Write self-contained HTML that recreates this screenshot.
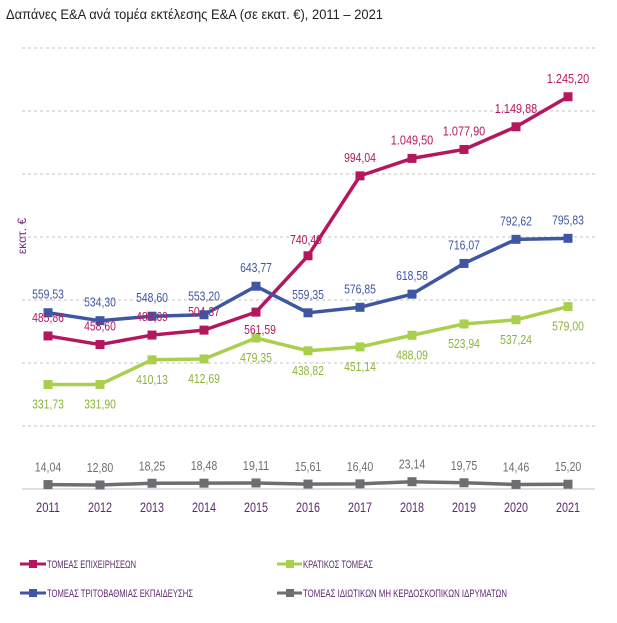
<!DOCTYPE html>
<html><head><meta charset="utf-8"><style>
body{margin:0;background:#fff;}
svg{display:block;font-family:"Liberation Sans Narrow","Liberation Sans",sans-serif;}
</style></head><body>
<svg width="617" height="623" viewBox="0 0 617 623">
<text x="6" y="19" textLength="377" lengthAdjust="spacingAndGlyphs" font-family="Liberation Sans, sans-serif" font-size="13.5" fill="#222">Δαπάνες Ε&amp;Α ανά τομέα εκτέλεσης Ε&amp;Α (σε εκατ. €), 2011 – 2021</text>
<text transform="translate(26,236) rotate(-90)" text-anchor="middle" font-size="12" fill="#7a2a7a">εκατ. €</text>
<g id="grid"></g><g id="series"></g><g id="labels"></g><g id="xaxis"></g>
<g>
<g><line x1="20" y1="564" x2="46" y2="564" stroke="#b5175f" stroke-width="3"/><rect x="29" y="560" width="8" height="8" fill="#b5175f"/><text x="47" y="568" textLength="89" lengthAdjust="spacingAndGlyphs" font-size="11" fill="#5b2a6e">ΤΟΜΕΑΣ ΕΠΙΧΕΙΡΗΣΕΩΝ</text></g>
<g><line x1="277" y1="564" x2="302" y2="564" stroke="#a9cf4f" stroke-width="3"/><rect x="286" y="560" width="8" height="8" fill="#a9cf4f"/><text x="303" y="568" textLength="70" lengthAdjust="spacingAndGlyphs" font-size="11" fill="#5b2a6e">ΚΡΑΤΙΚΟΣ ΤΟΜΕΑΣ</text></g>
<g><line x1="20" y1="593" x2="46" y2="593" stroke="#3f56a3" stroke-width="3"/><rect x="29" y="589" width="8" height="8" fill="#3f56a3"/><text x="47" y="597" textLength="146" lengthAdjust="spacingAndGlyphs" font-size="11" fill="#5b2a6e">ΤΟΜΕΑΣ ΤΡΙΤΟΒΑΘΜΙΑΣ ΕΚΠΑΙΔΕΥΣΗΣ</text></g>
<g><line x1="277" y1="593" x2="302" y2="593" stroke="#6d6e71" stroke-width="3"/><rect x="286" y="589" width="8" height="8" fill="#6d6e71"/><text x="303" y="597" textLength="204" lengthAdjust="spacingAndGlyphs" font-size="11" fill="#5b2a6e">ΤΟΜΕΑΣ ΙΔΙΩΤΙΚΩΝ ΜΗ ΚΕΡΔΟΣΚΟΠΙΚΩΝ ΙΔΡΥΜΑΤΩΝ</text></g>
</g>
</svg>
<script>
const years=['2011','2012','2013','2014','2015','2016','2017','2018','2019','2020','2021'];
const business=[485.86,458.60,488.69,504.37,561.59,740.40,994.04,1049.50,1077.90,1149.88,1245.20];
const higherEd=[559.53,534.30,548.60,553.20,643.77,559.35,576.85,618.58,716.07,792.62,795.83];
const government=[331.73,331.90,410.13,412.69,479.35,438.82,451.14,488.09,523.94,537.24,579.00];
const nonprofit=[14.04,12.80,18.25,18.48,19.11,15.61,16.40,23.14,19.75,14.46,15.20];
const gridTicks=[200,400,600,800,1000,1200,1400];
const NS='http://www.w3.org/2000/svg';
const x=i=>48+i*52;
const y=v=>489-v*0.315;
const fmt=v=>v.toLocaleString('de-DE',{minimumFractionDigits:2,maximumFractionDigits:2});
function mk(tag,attrs,parent){const e=document.createElementNS(NS,tag);for(const k in attrs)e.setAttribute(k,attrs[k]);parent.appendChild(e);return e;}
const grid=document.getElementById('grid');
gridTicks.forEach(t=>{const l=mk('line',{x1:22,x2:595,y1:y(t),y2:y(t),stroke:'#cfcfcf','stroke-width':1.2,'stroke-dasharray':'3,3'},grid);

});
const base=mk('line',{x1:22,x2:595,y1:y(0),y2:y(0),stroke:'#d6d6d6','stroke-width':1.5},grid);


const xa=document.getElementById('xaxis');
years.forEach((yr,i)=>{const t=mk('text',{x:x(i)-12,y:512,textLength:24,lengthAdjust:'spacingAndGlyphs','font-size':14,fill:'#5b2a6e'},xa);t.textContent=yr;

});
const seriesDefs=[
 {name:'business',data:business,color:'#b5175f',lc:'#b5175f',off:-14},
 {name:'higher-education',data:higherEd,color:'#3f56a3',lc:'#3f56a3',off:-14},
 {name:'government',data:government,color:'#a9cf4f',lc:'#8cb43a',off:24},
 {name:'private-nonprofit',data:nonprofit,color:'#6d6e71',lc:'#6d6e71',off:-13}
];
const sg=document.getElementById('series'),lg=document.getElementById('labels');
seriesDefs.forEach(s=>{
 const g=mk('g',{},sg);
 
 
 const pts=s.data.map((v,i)=>x(i)+','+y(v)).join(' ');
 const pl=mk('polyline',{points:pts,fill:'none',stroke:s.color,'stroke-width':3.5,'stroke-linejoin':'round'},g);
 
 
 s.data.forEach((v,i)=>{
  const r=mk('rect',{x:x(i)-4.5,y:y(v)-4.5,width:9,height:9,fill:s.color},g);
  
  
  let dx=0,dy=s.off;
  if(s.name==='business'&&i===4){dy=22;dx=4;}
  if(s.name==='business'&&i===5){dx=-2;dy=-12;}
  const str=fmt(v);
  const w=str.length*5.3;
  const t=mk('text',{x:x(i)+dx-w/2,y:y(v)+dy,textLength:w,lengthAdjust:'spacingAndGlyphs','font-size':13,fill:s.lc},lg);
  t.textContent=str;
  
  
 });
});
</script>
</body></html>
